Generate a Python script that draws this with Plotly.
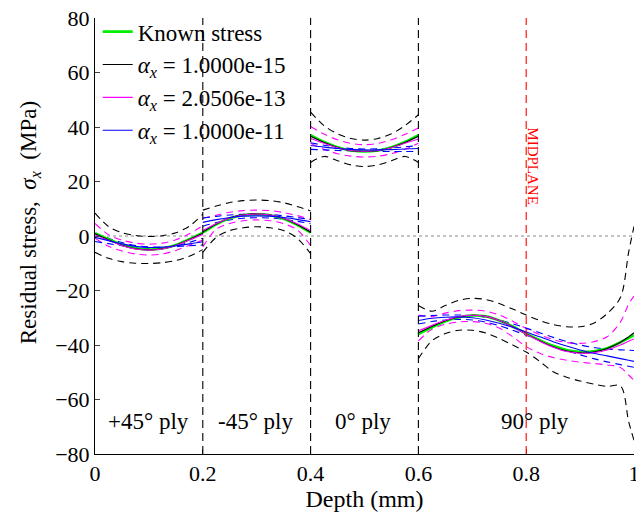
import plotly.graph_objects as go

# ---------------- data ----------------
D1 = [0.0, 0.025, 0.05, 0.075, 0.1, 0.125, 0.15, 0.175, 0.2]
D2 = [0.2, 0.225, 0.25, 0.275, 0.3, 0.325, 0.35, 0.375, 0.4]
D3 = [0.4, 0.425, 0.45, 0.475, 0.5, 0.525, 0.55, 0.575, 0.6]
D4 = [0.6, 0.625, 0.65, 0.675, 0.7, 0.725, 0.75, 0.775, 0.8, 0.825, 0.85,
      0.875, 0.9, 0.925, 0.95, 0.975, 0.99, 1.0]

# Known stress
K1 = [1.0, -1.2, -3.2, -4.5, -5.0, -4.6, -3.3, -1.2, 1.2]
K2 = [1.2, 4.3, 6.5, 7.6, 8.0, 7.6, 6.3, 4.1, 1.2]
K3 = [37.0, 34.5, 32.6, 31.4, 31.0, 31.4, 32.6, 34.5, 37.0]
K4 = [-36.0, -33.5, -31.3, -29.8, -29.2, -29.5, -31.0, -33.2, -35.8, -38.2, -40.3,
      -41.8, -42.5, -42.3, -41.2, -39.0, -37.5, -36.3]

# alpha = 1.0000e-15 (black): estimate, upper and lower bounds
B1 = [0.8, -1.4, -3.4, -4.7, -5.1, -4.7, -3.4, -1.3, 1.0]
B2 = [1.5, 4.4, 6.6, 7.8, 8.1, 7.7, 6.4, 4.2, 1.4]
B3 = [36.6, 34.3, 32.5, 31.3, 31.0, 31.3, 32.5, 34.3, 36.6]
B4 = [-35.5, -33.2, -31.1, -29.7, -29.1, -29.5, -31.0, -33.3, -35.9, -38.4, -40.6,
      -42.2, -42.9, -42.6, -41.3, -39.0, -37.0, -35.5]
BU1 = [8.4, 3.5, 1.2, 0.2, -0.2, 0.1, 1.2, 3.6, 8.0]
BU2 = [9.5, 11.0, 12.3, 13.0, 13.2, 13.0, 12.2, 10.8, 9.2]
BU3 = [45.5, 40.5, 37.5, 35.8, 35.2, 35.8, 37.5, 40.5, 44.5]
BU4 = [-25.5, -27.6, -25.5, -23.6, -22.9, -23.3, -24.8, -26.8, -29.0, -31.0, -32.5,
       -33.3, -33.3, -32.0, -28.5, -22.5, -6.0, 3.5]
BL1 = [-6.0, -8.2, -9.4, -10.0, -10.1, -9.8, -9.0, -7.4, -5.0]
BL2 = [-6.0, -0.5, 2.0, 3.0, 3.4, 3.0, 2.0, -0.8, -6.5]
BL3 = [27.0, 29.2, 27.6, 26.1, 25.5, 26.1, 27.6, 29.2, 27.0]
BL4 = [-45.0, -38.5, -35.8, -34.6, -34.6, -35.6, -37.6, -40.0, -42.6, -46.0, -49.8,
       -51.8, -53.2, -54.3, -55.2, -55.0, -68.0, -75.0]

# alpha = 2.0506e-13 (magenta)
M1 = [0.5, -1.6, -3.5, -4.8, -5.2, -4.8, -3.5, -1.5, 0.6]
M2 = [2.0, 4.6, 6.6, 7.7, 8.1, 7.7, 6.5, 4.5, 2.0]
M3 = [35.8, 34.0, 32.4, 31.4, 31.1, 31.4, 32.4, 34.0, 35.6]
M4 = [-34.8, -32.8, -30.9, -29.6, -29.1, -29.5, -31.0, -33.4, -36.0, -38.6, -40.8,
      -42.4, -43.0, -42.8, -41.8, -40.0, -38.6, -37.8]
MU1 = [4.6, 0.5, -1.5, -2.6, -3.0, -2.6, -1.4, 0.8, 3.8]
MU2 = [6.5, 7.6, 8.7, 9.3, 9.5, 9.3, 8.6, 7.5, 6.0]
MU3 = [40.2, 37.4, 35.3, 34.0, 33.5, 34.0, 35.3, 37.3, 39.6]
MU4 = [-29.0, -29.6, -28.3, -27.4, -27.2, -27.6, -29.0, -31.3, -33.9, -36.2, -38.0,
       -39.1, -39.4, -38.8, -37.0, -31.5, -25.0, -22.0]
ML1 = [-0.8, -3.8, -5.5, -6.6, -7.0, -6.6, -5.3, -3.4, -1.5]
ML2 = [-4.0, 2.5, 4.6, 5.6, 5.9, 5.6, 4.5, 2.3, -3.5]
ML3 = [34.0, 31.8, 30.2, 29.3, 29.0, 29.3, 30.2, 31.8, 34.0]
ML4 = [-38.5, -34.2, -32.4, -31.5, -31.4, -32.0, -33.8, -37.0, -40.6, -43.0, -44.6,
       -45.6, -46.3, -46.8, -47.3, -48.3, -51.0, -53.0]

# alpha = 1.0000e-11 (blue)
L1 = [-0.5, -1.7, -2.9, -3.8, -4.2, -4.1, -3.6, -2.9, -2.1]
L2 = [5.0, 6.0, 6.8, 7.3, 7.4, 7.3, 6.8, 6.1, 5.2]
L3 = [33.2, 32.6, 32.1, 31.8, 31.6, 31.6, 31.7, 31.9, 32.1]
L4 = [-31.0, -30.2, -29.8, -29.7, -30.0, -30.8, -32.0, -33.5, -35.2, -37.0, -38.8,
      -40.4, -41.8, -43.0, -44.0, -45.0, -45.6, -46.0]
LU1 = [1.0, -0.8, -2.4, -3.5, -4.0, -4.1, -3.9, -3.6, -3.3]
LU2 = [6.6, 7.2, 7.7, 8.0, 8.1, 7.9, 7.4, 6.8, 6.0]
LU3 = [34.2, 33.3, 32.6, 32.1, 31.9, 32.0, 32.3, 32.7, 33.2]
LU4 = [-29.4, -29.2, -29.0, -29.0, -29.2, -29.8, -30.8, -32.2, -33.8, -35.5, -37.2,
       -38.7, -40.0, -40.9, -41.5, -41.8, -41.9, -42.0]
LL1 = [-2.0, -2.8, -3.6, -4.3, -4.6, -4.4, -3.6, -2.3, -0.8]
LL2 = [3.6, 4.9, 5.9, 6.5, 6.7, 6.6, 6.1, 5.4, 4.5]
LL3 = [31.8, 31.6, 31.4, 31.2, 31.1, 31.0, 31.0, 31.0, 31.0]
LL4 = [-32.3, -31.4, -30.8, -30.6, -30.8, -31.6, -32.9, -34.6, -36.4, -38.3, -40.2,
       -42.0, -43.6, -45.0, -46.2, -47.2, -47.8, -48.2]

PLY_LABELS = ["+45° ply", "-45° ply", "0° ply", "90° ply"]
PLY_X = [0.1, 0.297, 0.497, 0.817]
PLY_Y = -68
BOUNDARIES = [0.2, 0.4, 0.6]
MIDPLANE = 0.8
X_TICKS = [0, 0.2, 0.4, 0.6, 0.8, 1]
X_TICKTEXT = ["0", "0.2", "0.4", "0.6", "0.8", "1"]
Y_TICKS = [-80, -60, -40, -20, 0, 20, 40, 60, 80]

LEGEND_NAMES = ["Known stress",
                "<i>α</i><sub><i>x</i></sub> = 1.0000e-15",
                "<i>α</i><sub><i>x</i></sub> = 2.0506e-13",
                "<i>α</i><sub><i>x</i></sub> = 1.0000e-11"]
COLORS = ["#00ee00", "black", "#ff00ff", "#0000ff"]

FONT = "Liberation Serif"


def join(*segs):
    xs, ys = [], []
    dgrids = [D1, D2, D3, D4]
    for d, s in zip(dgrids, segs):
        xs += d + [None]
        ys += s + [None]
    return xs, ys


fig = go.Figure()
DASH = "7px,5px"


def add(segs, color, width, dash=None, name=None, show=False, rank=None):
    xs, ys = join(*segs)
    fig.add_trace(go.Scatter(
        x=xs, y=ys, mode="lines", name=name, showlegend=show,
        legendrank=rank if rank else 1000,
        line=dict(color=color, width=width, dash=dash, shape="spline", smoothing=0.9),
        connectgaps=False, hoverinfo="skip"))


# bounds
add([BU1, BU2, BU3, BU4], "black", 1.1, DASH)
add([BL1, BL2, BL3, BL4], "black", 1.1, DASH)
add([MU1, MU2, MU3, MU4], "#ff00ff", 1.1, DASH)
add([ML1, ML2, ML3, ML4], "#ff00ff", 1.1, DASH)
add([LU1, LU2, LU3, LU4], "#0000ff", 1.1, DASH)
add([LL1, LL2, LL3, LL4], "#0000ff", 1.1, DASH)
# known and estimates
add([K1, K2, K3, K4], COLORS[0], 2.6, None, LEGEND_NAMES[0], True, 1)
add([B1, B2, B3, B4], COLORS[1], 1.1, None, LEGEND_NAMES[1], True, 2)
add([M1, M2, M3, M4], COLORS[2], 1.1, None, LEGEND_NAMES[2], True, 3)
add([L1, L2, L3, L4], COLORS[3], 1.1, None, LEGEND_NAMES[3], True, 4)

shapes = [dict(type="line", xref="x", yref="y", x0=0, x1=1, y0=0, y1=0,
               line=dict(color="#888888", width=1, dash="dot"), layer="below")]
for b in BOUNDARIES:
    shapes.append(dict(type="line", xref="x", yref="y", x0=b, x1=b, y0=-80, y1=80,
                       line=dict(color="black", width=1.1, dash="8px,5px")))
shapes.append(dict(type="line", xref="x", yref="y", x0=MIDPLANE, x1=MIDPLANE, y0=-80, y1=80,
                   line=dict(color="#ff0000", width=1.1, dash="8px,5px")))

annotations = []
for t, x in zip(PLY_LABELS, PLY_X):
    annotations.append(dict(x=x, y=PLY_Y, xref="x", yref="y", text=t, showarrow=False,
                            font=dict(family=FONT, size=23, color="black")))
annotations.append(dict(x=0.813, y=25.5, xref="x", yref="y", text="MIDPLANE", textangle=90,
                        showarrow=False, font=dict(family=FONT, size=15, color="#ff0000")))
# y-axis title as a rotated annotation for exact placement
annotations.append(dict(x=-0.12, y=0.53, xref="paper", yref="paper", textangle=-90,
                        xanchor="center", yanchor="middle", showarrow=False,
                        text="Residual stress,\u00a0\u00a0<i>σ</i><sub><i>x</i></sub>\u00a0\u00a0(MPa)",
                        font=dict(family=FONT, size=23, color="black")))

# the page body has an 8px margin, so the figure is 8px smaller and margins shifted
fig.update_layout(
    width=636, height=510,
    margin=dict(l=87, r=10, t=10, b=64, autoexpand=False),
    paper_bgcolor="white", plot_bgcolor="white",
    font=dict(family=FONT, size=22, color="black"),
    shapes=shapes, annotations=annotations,
    legend=dict(x=0.005, y=1.018, xanchor="left", yanchor="top", bgcolor="rgba(0,0,0,0)",
                font=dict(family=FONT, size=23), tracegroupgap=0, itemwidth=30),
    xaxis=dict(range=[0, 1], tickvals=X_TICKS, ticktext=X_TICKTEXT, ticks="inside", ticklen=5,
               showline=True, linecolor="black", linewidth=1, showgrid=False, zeroline=False,
               mirror=False, automargin=False, ticklabeloverflow="allow",
               title=dict(text="Depth (mm)", font=dict(size=24), standoff=0),
               tickfont=dict(size=22)),
    yaxis=dict(range=[-80, 80], tickvals=Y_TICKS, ticks="inside", ticklen=5,
               showline=True, linecolor="black", linewidth=1, showgrid=False, zeroline=False,
               mirror=False, automargin=False, ticklabeloverflow="allow",
               tickfont=dict(size=22)),
)

fig.write_html("out.html")
